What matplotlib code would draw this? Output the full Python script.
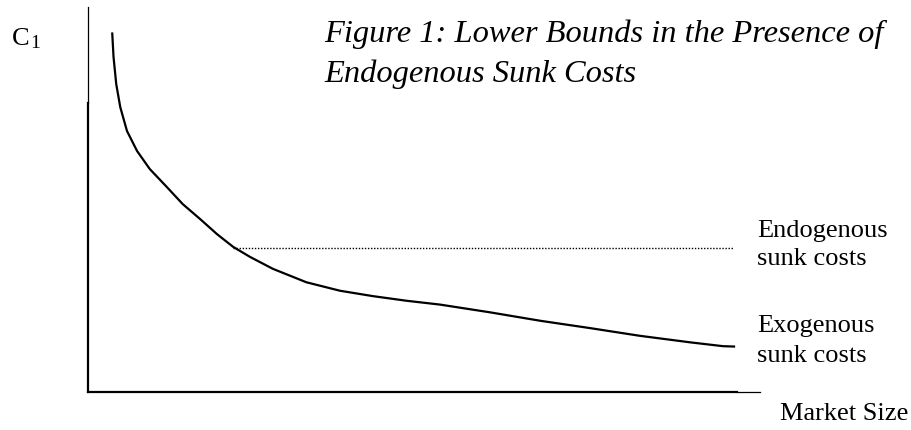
import numpy as np
import matplotlib.pyplot as plt

# lower bound curve (exogenous sunk costs)
market_size = [0.36, 0.38, 0.42, 0.48, 0.58, 0.73, 0.92, 1.17, 1.41, 1.67, 1.92,
               2.16, 2.41, 2.75, 3.25, 3.75, 4.24, 4.74, 5.24, 5.98, 6.73,
               7.47, 8.21, 8.96, 9.45, 9.63]
c1_exog = [9.34, 8.70, 8.00, 7.40, 6.78, 6.26, 5.79, 5.33, 4.88, 4.49, 4.10,
           3.77, 3.51, 3.20, 2.85, 2.63, 2.49, 2.37, 2.27, 2.07, 1.85,
           1.66, 1.46, 1.29, 1.19, 1.18]

# endogenous sunk costs: flat bound
endog_x = [2.16, 9.60]
endog_y = [3.74, 3.74]

title_lines = ["Figure 1: Lower Bounds in the Presence of", "Endogenous Sunk Costs"]

W, H = 912, 431


def px(x, y):
    # pixel position (from top-left) -> figure fraction
    return x / W, 1 - y / H


fig = plt.figure(figsize=(W / 100, H / 100), dpi=100)
ax = fig.add_axes([88 / W, 1 - 393 / H, 672 / W, 385 / H])
ax.set_xlim(0, 10)
ax.set_ylim(0, 10)
ax.axis('off')

# axes drawn by hand: thick near the origin, thin at the ends
ax.axvline(0, ymin=0, ymax=0.75, color='black', lw=1.6, clip_on=False)
ax.axvline(0, ymin=0.75, ymax=1.0, color='black', lw=0.9, clip_on=False)
ax.axhline(0, xmin=0, xmax=0.966, color='black', lw=1.6, clip_on=False)
ax.axhline(0, xmin=0.966, xmax=1.0, color='black', lw=0.9, clip_on=False)

ax.plot(market_size, c1_exog, color='black', lw=1.6,
        solid_capstyle='butt', solid_joinstyle='round')
ax.plot(endog_x, endog_y, color='black', lw=1.0, linestyle=(0, (1, 1.2)))

serif = 'Liberation Serif'
fs = 19

fig.text(*px(12, 45), "C", family=serif, fontsize=fs, va='baseline')
fig.text(*px(30, 48), "1", family=serif, fontsize=14, va='baseline')

fig.text(*px(324, 42), title_lines[0], family=serif, style='italic', fontsize=23.4, va='baseline')
fig.text(*px(324, 82), title_lines[1], family=serif, style='italic', fontsize=23.4, va='baseline')

fig.text(*px(757, 237), "Endogenous", family=serif, fontsize=fs, va='baseline')
fig.text(*px(757, 265), "sunk costs", family=serif, fontsize=fs, va='baseline')
fig.text(*px(757, 332), "Exogenous", family=serif, fontsize=fs, va='baseline')
fig.text(*px(757, 362), "sunk costs", family=serif, fontsize=fs, va='baseline')
fig.text(*px(780, 420), "Market Size", family=serif, fontsize=fs, va='baseline')

fig.savefig('out.png', dpi=100, facecolor='white')
